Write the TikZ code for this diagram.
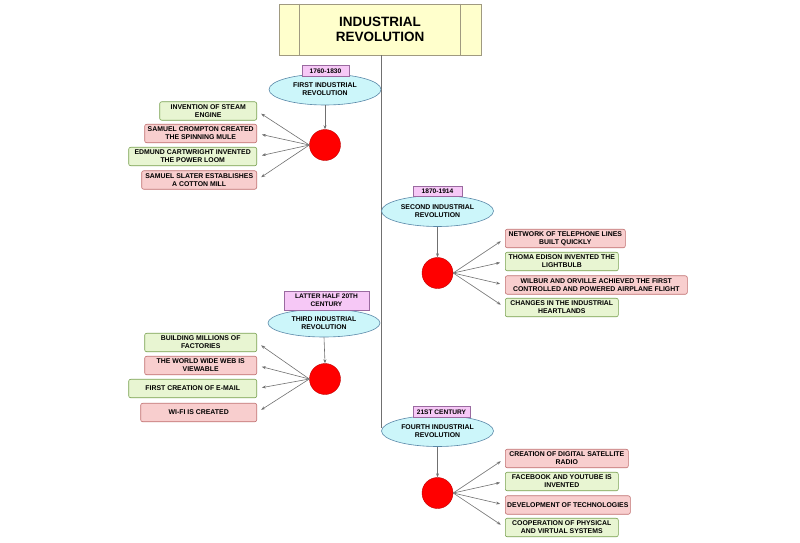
\documentclass[tikz,border=0pt]{standalone}
\usepackage{fontspec}
\setmainfont{Liberation Sans}
\usetikzlibrary{shapes.geometric,arrows.meta}
\definecolor{titlefill}{HTML}{FFFFCC}
\definecolor{titleline}{HTML}{A09A80}
\definecolor{ellfill}{HTML}{CCF6FA}
\definecolor{ellline}{HTML}{5A88A8}
\definecolor{datefill}{HTML}{F6C8F6}
\definecolor{dateline}{HTML}{9A6AA0}
\definecolor{greenfill}{HTML}{E8F5D2}
\definecolor{greenline}{HTML}{78A050}
\definecolor{pinkfill}{HTML}{F8CECE}
\definecolor{pinkline}{HTML}{C07070}
\definecolor{dotred}{HTML}{FF0000}
\definecolor{arrowgray}{HTML}{707070}
\tikzset{
  era/.style={ellipse, draw=ellline, fill=ellfill, line width=0.6pt, minimum width=112pt, minimum height=31pt,
    inner sep=0pt, align=center, font=\bfseries\fontsize{6.9}{8}\selectfont},
  datebox/.style={rectangle, draw=dateline, fill=datefill, line width=0.6pt, minimum height=10.5pt, inner sep=1pt,
    align=center, font=\bfseries\fontsize{6.6}{7.8}\selectfont},
  hub/.style={circle, draw=red!75!black, fill=dotred, minimum size=31pt, inner sep=0pt},
  item/.style={rectangle, rounded corners=2pt, line width=0.6pt, minimum height=18.5pt, inner sep=1pt,
    align=center, font=\bfseries\fontsize{6.9}{8}\selectfont},
  greenitem/.style={item, draw=greenline, fill=greenfill},
  pinkitem/.style={item, draw=pinkline, fill=pinkfill},
  link/.style={draw=arrowgray, line width=0.6pt, -{Stealth[length=4pt,width=3pt]}, shorten >=5pt},
  drop/.style={draw=arrowgray, line width=0.6pt, -{Stealth[length=4pt,width=3pt]}}
}
\begin{document}
\begin{tikzpicture}[x=1pt,y=-1pt]
\useasboundingbox (0,0) rectangle (800,542);
% title and trunk
\node[rectangle, draw=titleline, fill=titlefill, line width=0.8pt, minimum width=202pt, minimum height=51pt,
  align=center, font=\bfseries\fontsize{13.5}{15.5}\selectfont] (title) at (380,29.5) {INDUSTRIAL\\REVOLUTION};
\draw[titleline, line width=0.8pt] ([xshift=21pt]title.north west) -- ([xshift=21pt]title.south west);
\draw[titleline, line width=0.8pt] ([xshift=-21pt]title.north east) -- ([xshift=-21pt]title.south east);
\coordinate (trunkend) at (381,428);
\draw[arrowgray, line width=0.6pt] (title.south -| trunkend) -- (trunkend);

% first revolution
\node[era] (e1) at (325,89.5) {FIRST INDUSTRIAL\\REVOLUTION};
\node[datebox, minimum width=47pt] (d1) at (325.5,71) {1760-1830};
\node[hub] (c1) at (325,145) {};
\draw[drop] (e1.south) -- (c1.north);
\node[greenitem, minimum width=97pt, anchor=east] (a1) at (257,111) {INVENTION OF STEAM\\ENGINE};
\node[pinkitem, minimum width=112pt, anchor=east] (a2) at (257,133.5) {SAMUEL CROMPTON CREATED\\THE SPINNING MULE};
\node[greenitem, minimum width=128pt, anchor=east] (a3) at (257,156.5) {EDMUND CARTWRIGHT INVENTED\\THE POWER LOOM};
\node[pinkitem, minimum width=115pt, anchor=east] (a4) at (257,180) {SAMUEL SLATER ESTABLISHES\\A COTTON MILL};
\foreach \n in {a1,a2,a3,a4} \draw[link] (c1.west) -- (\n.east);

% second revolution
\node[era] (e2) at (437.5,211) {SECOND INDUSTRIAL\\REVOLUTION};
\node[datebox, minimum width=49pt] (d2) at (437.5,191.5) {1870-1914};
\node[hub] (c2) at (437.5,273) {};
\draw[drop] (e2.south) -- (c2.north);
\node[pinkitem, minimum width=120pt, anchor=west] (b1) at (505,238.5) {NETWORK OF TELEPHONE LINES\\BUILT QUICKLY};
\node[greenitem, minimum width=113pt, anchor=west] (b2) at (505,261.5) {THOMA EDISON INVENTED THE\\LIGHTBULB};
\node[pinkitem, minimum width=182pt, anchor=west] (b3) at (505,285) {WILBUR AND ORVILLE ACHIEVED THE FIRST\\CONTROLLED AND POWERED AIRPLANE FLIGHT};
\node[greenitem, minimum width=113pt, anchor=west] (b4) at (505,307.5) {CHANGES IN THE INDUSTRIAL\\HEARTLANDS};
\foreach \n in {b1,b2,b3,b4} \draw[link] (c2.east) -- (\n.west);

% third revolution
\node[era, minimum height=28pt] (e3) at (324,323) {THIRD INDUSTRIAL\\REVOLUTION};
\node[datebox, minimum width=85pt, minimum height=19pt] (d3) at (326.5,300.5) {LATTER HALF 20TH\\CENTURY};
\node[hub] (c3) at (325,379) {};
\draw[drop] (e3.south) -- (c3.north);
\node[greenitem, minimum width=112pt, anchor=east] (f1) at (257,342.5) {BUILDING MILLIONS OF\\FACTORIES};
\node[pinkitem, minimum width=112pt, anchor=east] (f2) at (257,365.5) {THE WORLD WIDE WEB IS\\VIEWABLE};
\node[greenitem, minimum width=128pt, anchor=east] (f3) at (257,388.5) {FIRST CREATION OF E-MAIL};
\node[pinkitem, minimum width=116pt, anchor=east] (f4) at (257,412.5) {WI-FI IS CREATED};
\foreach \n in {f1,f2,f3,f4} \draw[link] (c3.west) -- (\n.east);

% fourth revolution
\node[era] (e4) at (437.5,431) {FOURTH INDUSTRIAL\\REVOLUTION};
\node[datebox, minimum width=57pt] (d4) at (441.5,412) {21ST CENTURY};
\node[hub] (c4) at (437.5,493) {};
\draw[drop] (e4.south) -- (c4.north);
\node[pinkitem, minimum width=123pt, anchor=west] (g1) at (505,458.5) {CREATION OF DIGITAL SATELLITE\\RADIO};
\node[greenitem, minimum width=113pt, anchor=west] (g2) at (505,481.5) {FACEBOOK AND YOUTUBE IS\\INVENTED};
\node[pinkitem, minimum width=125pt, anchor=west] (g3) at (505,505) {DEVELOPMENT OF TECHNOLOGIES};
\node[greenitem, minimum width=113pt, anchor=west] (g4) at (505,527.5) {COOPERATION OF PHYSICAL\\AND VIRTUAL SYSTEMS};
\foreach \n in {g1,g2,g3,g4} \draw[link] (c4.east) -- (\n.west);
\end{tikzpicture}
\end{document}
